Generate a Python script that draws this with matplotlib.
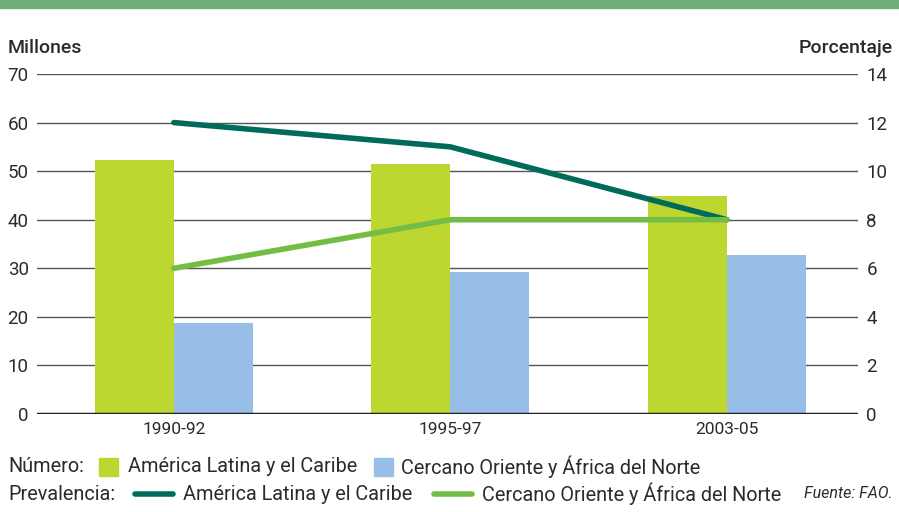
import numpy as np
import matplotlib
matplotlib.use("Agg")
import matplotlib.pyplot as plt
from matplotlib.patches import Rectangle
from matplotlib.lines import Line2D

plt.rcParams['font.family'] = ['Roboto', 'DejaVu Sans']

periods = ["1990-92", "1995-97", "2003-05"]
num_latam = [52.3, 51.5, 44.9]       # millones
num_cercano = [18.7, 29.2, 32.7]     # millones
prev_latam = [12, 11, 8]             # porcentaje
prev_cercano = [6, 8, 8]             # porcentaje

c_bar1 = "#bed630"
c_bar2 = "#96bee6"
c_line1 = "#006b5b"
c_line2 = "#74bd44"
c_text = "#2b2b2b"

fig = plt.figure(figsize=(8.99, 5.12), dpi=100)
ax = fig.add_axes([37/899, 1 - 414/512, (858 - 37)/899, (414 - 74)/512])
ax2 = ax.twinx()

x = np.arange(len(periods))
w = 0.286
ax.bar(x - w/2, num_latam, w, color=c_bar1, zorder=2)
ax.bar(x + w/2, num_cercano, w, color=c_bar2, zorder=2)

ax.set_xlim(-0.495, 2.474)
ax.set_ylim(0, 70)
ax.set_yticks(range(0, 71, 10))
ax.yaxis.grid(True, color="#555555", linewidth=1.0, zorder=0)
ax.set_axisbelow(True)
ax.axhline(0, color="#231f20", linewidth=2.5, zorder=3)
ax.set_xticks(x)
ax.set_xticklabels(periods, fontsize=12.5, color=c_text)
ax.tick_params(axis="x", length=0, pad=6)
ax.tick_params(axis="y", length=0, pad=6, labelsize=13.5, labelcolor=c_text)
for s in ax.spines.values():
    s.set_visible(False)

ax2.plot(x, prev_cercano, color=c_line2, linewidth=4, solid_capstyle="round", zorder=4)
ax2.plot(x, prev_latam, color=c_line1, linewidth=4, solid_capstyle="round", zorder=3)
ax2.set_ylim(0, 14)
ax2.set_yticks(range(0, 15, 2))
ax2.tick_params(axis="y", length=0, pad=6, labelsize=13.5, labelcolor=c_text)
for s in ax2.spines.values():
    s.set_visible(False)

# banner at top
fig.patches.append(Rectangle((0, 1 - 8/512), 1, 8/512, transform=fig.transFigure,
                             color="#72ae78", zorder=0))

fig.text(8/899, 1 - 48/512, "Millones", fontsize=14, fontweight="medium",
         color=c_text, va="center", ha="left")
fig.text(893/899, 1 - 48/512, "Porcentaje", fontsize=14, fontweight="medium",
         color=c_text, va="center", ha="right")

# legend
y1 = 1 - 467/512
y2 = 1 - 494/512
fs = 14.3
fig.text(8/899, y1, "Número:", fontsize=fs, color=c_text, va="center")
fig.patches.append(Rectangle((99/899, 1 - 476/512), 19/899, 18/512,
                             transform=fig.transFigure, color=c_bar1))
fig.text(128/899, y1, "América Latina y el Caribe", fontsize=fs, color=c_text, va="center")
fig.patches.append(Rectangle((374/899, 1 - 476/512), 19/899, 18/512,
                             transform=fig.transFigure, color=c_bar2))
fig.text(401/899, y1, "Cercano Oriente y África del Norte", fontsize=fs, color=c_text, va="center")

fig.text(8/899, y2, "Prevalencia:", fontsize=fs, color=c_text, va="center")
fig.lines.append(Line2D([135/899, 173/899], [y2, y2], transform=fig.transFigure,
                        color=c_line1, linewidth=4, solid_capstyle="round"))
fig.text(183/899, y2, "América Latina y el Caribe", fontsize=fs, color=c_text, va="center")
fig.lines.append(Line2D([434/899, 472/899], [y2, y2], transform=fig.transFigure,
                        color=c_line2, linewidth=4, solid_capstyle="round"))
fig.text(482/899, y2, "Cercano Oriente y África del Norte", fontsize=fs, color=c_text, va="center")
fig.text(893/899, y2, "Fuente: FAO.", fontsize=11.5, style="italic", color=c_text,
         va="center", ha="right")

fig.savefig("out.png", dpi=100)
